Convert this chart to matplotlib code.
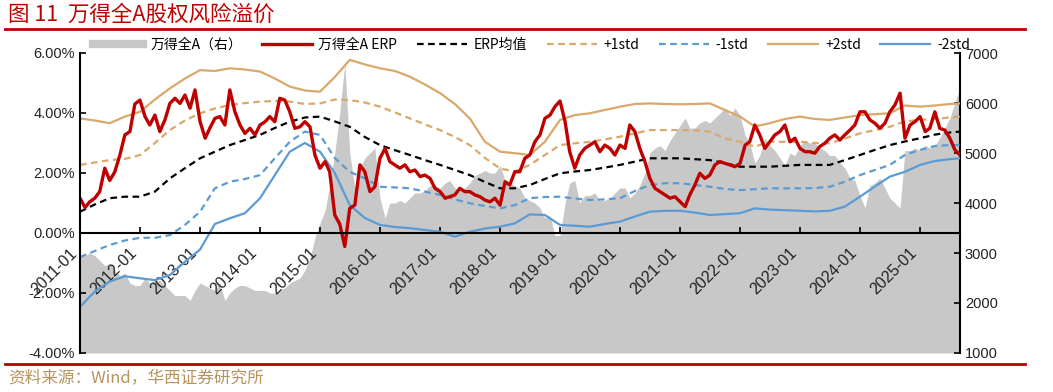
import numpy as np
import pandas as pd
import matplotlib
matplotlib.use('Agg')
import matplotlib.pyplot as plt
from matplotlib.lines import Line2D
from matplotlib.ticker import FuncFormatter

plt.rcParams['font.family'] = ['Noto Sans CJK SC', 'DejaVu Sans']

# Monthly data, 2011-01 .. 2025-09
start = '2011-01-01'
erp = [1.16, 0.85, 1.04, 1.16, 1.38, 2.16, 1.75, 2.04, 2.6, 3.27, 3.38, 4.3,
       4.43, 3.88, 3.6, 3.93, 3.38, 3.77, 4.32, 4.49, 4.32, 4.6, 4.16, 4.77,
       3.71, 3.16, 3.49, 3.82, 3.88, 3.6, 4.77, 4.04, 3.6, 3.32, 3.49, 3.27,
       3.6, 3.71, 3.88, 3.71, 4.49, 4.43, 4.04, 3.49,
       3.54, 3.71, 3.54, 2.6, 2.16, 2.38, 2.04, 0.6, 0.3, -0.45, 0.82, 0.93, 2.27, 2.04, 1.38, 1.54,
       2.49, 2.82, 2.38, 2.27, 2.16, 2.27, 2.04, 2.1, 1.88, 1.93, 1.82, 1.49,
       1.38, 1.16, 1.21, 1.27, 1.49, 1.38, 1.38, 1.27, 1.21, 1.1, 1.04, 1.16, 0.93, 1.71, 1.6, 2.04,
       2.04, 2.49, 2.6, 3.04, 3.27, 3.82, 3.93, 4.21, 4.4, 3.71, 2.71, 2.16, 2.6, 2.82, 2.93, 3.04,
       2.71, 2.93, 2.82, 2.6,
       2.93, 2.82, 3.6, 3.38, 2.82, 2.38, 1.82, 1.49, 1.38, 1.27, 1.16, 1.21, 1.04, 0.88, 1.27, 1.6,
       1.99, 1.82, 1.93, 2.27, 2.38, 2.32, 2.27, 2.21,
       2.32, 2.93, 3.04, 3.6, 3.27, 2.82, 3.04, 3.27, 3.38, 3.6, 3.04, 3.16, 2.82, 2.71, 2.71, 2.66,
       2.88, 2.99, 3.16, 3.27, 3.1, 3.27, 3.43, 3.6,
       4.04, 4.04, 3.77, 3.66, 3.49, 3.66, 4.04, 4.27, 4.66, 3.16, 3.6, 3.71, 3.88, 3.38, 3.49, 4.04,
       3.49, 3.43, 3.16, 2.77, 2.6]
index_all_a = [2950, 2950, 3000, 2950, 2850, 2750, 2800, 2650, 2550, 2600, 2400, 2350,
               2350, 2500, 2400, 2450, 2450, 2350, 2250, 2150, 2150, 2150, 2050, 2250,
               2400, 2350, 2300, 2250, 2400, 2050, 2200, 2300, 2350, 2350, 2300, 2250,
               2250, 2250, 2200, 2200, 2250, 2300, 2400, 2450, 2500, 2650, 2900, 3300,
               3600, 3850, 4350, 5000, 5800, 6800, 5000, 4300, 4700, 4900, 5000, 5100,
               4100, 3700, 4000, 4000, 4050, 4000, 4100, 4200, 4200, 4250, 4350, 4350,
               4300, 4400, 4450, 4300, 4250, 4300, 4400, 4550, 4600, 4650, 4600, 4600,
               4750, 4450, 4400, 4350, 4300, 4100, 4050, 4000, 3900, 3700, 3750, 3350,
               3350, 4000, 4400, 4450, 4000, 4150, 4150, 4200, 4050, 4050, 4100, 4200,
               4300, 4300, 4100, 4200, 4350, 4600, 5000, 5100, 5150, 5050, 5250, 5400,
               5550, 5700, 5500, 5500, 5600, 5650, 5600, 5700, 5800, 5900, 5750, 5900,
               5750, 5350, 5200, 4800, 4950, 5300, 5150, 5050, 4900, 4750, 5000, 4950,
               5150, 5250, 5200, 5200, 5100, 5050, 4950, 4950, 4800, 4700, 4500, 4450,
               4150, 3900, 4350, 4400, 4500, 4300, 4100, 4000, 3900, 5050, 5050, 5100,
               5050, 5150, 5100, 5150, 5300, 5500, 5700, 6000, 6300]

# Bands, sampled every 3 months (month offset from 2011-01)
band_m = list(range(0, 175, 3)) + [176]
erp_mean = [0.71, 0.95, 1.16, 1.21, 1.21, 1.38, 1.82, 2.16, 2.49, 2.71, 2.93, 3.1, 3.27, 3.5, 3.71,
            3.85, 3.88, 3.72, 3.54, 3.2, 2.93, 2.76, 2.6, 2.43, 2.27, 2.1, 1.93, 1.7, 1.49, 1.49,
            1.6, 1.8, 1.99, 2.05, 2.1, 2.18, 2.27, 2.38, 2.49, 2.49, 2.49, 2.46, 2.43, 2.33, 2.21,
            2.21, 2.21, 2.24, 2.27, 2.27, 2.27, 2.43, 2.6, 2.77, 2.93, 3.05, 3.16, 3.28, 3.35, 3.38]
plus1 = [2.27, 2.35, 2.43, 2.47, 2.6, 3.0, 3.43, 3.75, 3.99, 4.15, 4.27, 4.33, 4.38, 4.4, 4.38,
         4.3, 4.32, 4.45, 4.43, 4.35, 4.21, 4.02, 3.82, 3.62, 3.43, 3.2, 2.93, 2.5, 2.15, 2.05,
         2.27, 2.6, 2.93, 2.99, 3.04, 3.12, 3.21, 3.32, 3.43, 3.43, 3.43, 3.42, 3.38, 3.15, 3.04,
         2.88, 3.04, 3.04, 3.04, 3.0, 2.99, 3.15, 3.32, 3.43, 3.54, 3.72, 3.77, 3.8, 3.85, 3.88]
minus1 = [-0.8, -0.6, -0.4, -0.25, -0.16, -0.16, -0.07, 0.27, 0.71, 1.49, 1.71, 1.8, 1.93, 2.49, 3.04,
          3.38, 3.27, 2.5, 2.04, 1.82, 1.54, 1.52, 1.49, 1.38, 1.27, 1.12, 0.99, 0.9, 0.82, 0.93,
          1.16, 1.2, 1.21, 1.15, 1.1, 1.12, 1.16, 1.4, 1.6, 1.66, 1.66, 1.6, 1.54, 1.47, 1.43,
          1.46, 1.49, 1.49, 1.49, 1.5, 1.54, 1.71, 1.93, 2.1, 2.27, 2.6, 2.77, 2.9, 2.93, 2.93]
plus2 = [3.82, 3.75, 3.66, 3.88, 4.04, 4.45, 4.82, 5.15, 5.43, 5.4, 5.49, 5.45, 5.38, 5.15, 4.88,
         4.75, 4.71, 5.2, 5.77, 5.62, 5.49, 5.4, 5.21, 4.95, 4.66, 4.3, 3.82, 3.04, 2.71, 2.66,
         2.6, 3.04, 3.77, 3.93, 3.99, 4.1, 4.21, 4.3, 4.32, 4.3, 4.29, 4.3, 4.32, 4.1, 3.88,
         3.55, 3.66, 3.8, 3.88, 3.8, 3.77, 3.85, 3.93, 3.96, 3.99, 4.25, 4.21, 4.25, 4.3, 4.32]
minus2 = [-2.46, -1.95, -1.62, -1.44, -1.51, -1.57, -1.4, -0.96, -0.55, 0.3, 0.49, 0.66, 1.16, 1.93, 2.71,
          3.0, 2.71, 2.0, 0.93, 0.5, 0.27, 0.2, 0.16, 0.1, 0.04, -0.12, 0.04, 0.15, 0.21, 0.32,
          0.62, 0.6, 0.27, 0.24, 0.21, 0.3, 0.38, 0.55, 0.71, 0.74, 0.74, 0.68, 0.6, 0.63, 0.66,
          0.82, 0.78, 0.76, 0.74, 0.72, 0.74, 0.88, 1.21, 1.55, 1.88, 2.04, 2.27, 2.4, 2.46, 2.49]

years = list(range(2011, 2026))

dates = pd.date_range(start, periods=len(erp), freq='MS')
band_dates = [pd.Timestamp(start) + pd.DateOffset(months=m) for m in band_m]

tan = '#D9A86A'
blue = '#5B9BD5'
red = '#C00000'

fig = plt.figure(figsize=(10.53, 3.92), dpi=100)
ax = fig.add_axes([80 / 1053, 39 / 392, 880 / 1053, 300 / 392])
ax2 = ax.twinx()

ax2.fill_between(dates, 1000, index_all_a, color='#C8C8C8', lw=0)
ax2.set_ylim(1000, 7000)
ax2.set_yticks(range(1000, 7001, 1000))

ax.set_zorder(ax2.get_zorder() + 1)
ax.patch.set_visible(False)

ax.plot(band_dates, plus2, color=tan, lw=1.6)
ax.plot(band_dates, minus2, color=blue, lw=1.6)
ax.plot(band_dates, plus1, color=tan, lw=1.6, ls=(0, (3, 2)))
ax.plot(band_dates, minus1, color=blue, lw=1.6, ls=(0, (3, 2)))
ax.plot(band_dates, erp_mean, color='black', lw=1.6, ls=(0, (3, 2)))
ax.plot(dates, erp, color=red, lw=2.4)

ax.set_ylim(-4, 6)
ax.set_yticks(np.arange(-4, 6.1, 2))
ax.yaxis.set_major_formatter(FuncFormatter(lambda v, p: f'{v:.2f}%'))
ax.set_xlim(dates[0], dates[-1])
ax.set_xticks([pd.Timestamp(f'{y}-01-01') for y in years])

ax.spines['bottom'].set_position(('data', 0))
ax.spines['top'].set_visible(False)
ax.spines['right'].set_visible(False)
ax.spines['left'].set_linewidth(1.5)
ax.spines['bottom'].set_linewidth(1.5)
for s in ['top', 'left', 'bottom']:
    ax2.spines[s].set_visible(False)
ax2.spines['right'].set_linewidth(1.5)

ax.tick_params(axis='x', direction='in', length=4, width=1.2, pad=9)
ax.tick_params(axis='y', direction='in', length=4, width=1.2, labelsize=10.5,
               labelcolor='#222222', labelfontfamily='Liberation Sans')
ax2.tick_params(axis='y', direction='in', length=4, width=1.2, labelsize=10.5,
                labelcolor='#222222', labelfontfamily='Liberation Sans')

handles = [
    Line2D([], [], color='#C8C8C8', lw=6),
    Line2D([], [], color=red, lw=2.4),
    Line2D([], [], color='black', lw=1.6, ls=(0, (3, 2))),
    Line2D([], [], color=tan, lw=1.6, ls=(0, (3, 2))),
    Line2D([], [], color=blue, lw=1.6, ls=(0, (3, 2))),
    Line2D([], [], color=tan, lw=1.6),
    Line2D([], [], color=blue, lw=1.6),
]
labels = ['万得全A（右）', '万得全A ERP', 'ERP均值', '+1std', '-1std', '+2std', '-2std']
fig.legend(handles, labels, loc='center', bbox_to_anchor=(0.505, 1 - 45 / 392), ncol=7,
           frameon=False, fontsize=10, handlelength=3.6, handletextpad=0.5,
           columnspacing=1.4)

fig.text(8 / 1053, 1 - 15 / 392, '图 11  万得全A股权风险溢价', color=red, fontsize=15.5,
         va='center', ha='left')
fig.add_artist(Line2D([5 / 1053, 1025 / 1053], [1 - 29 / 392, 1 - 29 / 392],
                      color=red, lw=2, transform=fig.transFigure))
fig.add_artist(Line2D([5 / 1053, 1025 / 1053], [1 - 364 / 392, 1 - 364 / 392],
                      color=red, lw=2, transform=fig.transFigure))
fig.text(8 / 1053, 1 - 378 / 392, '资料来源：Wind，华西证券研究所', color='#B8935E', fontsize=12,
         va='center', ha='left')

# tick labels last so nothing resets the alignment
ax.set_xticklabels([f'{y}-01' for y in years], rotation=45, ha='right', va='top',
                   fontsize=11.5, color='#222222', family='Liberation Sans')

fig.savefig('out.png', dpi=100)
